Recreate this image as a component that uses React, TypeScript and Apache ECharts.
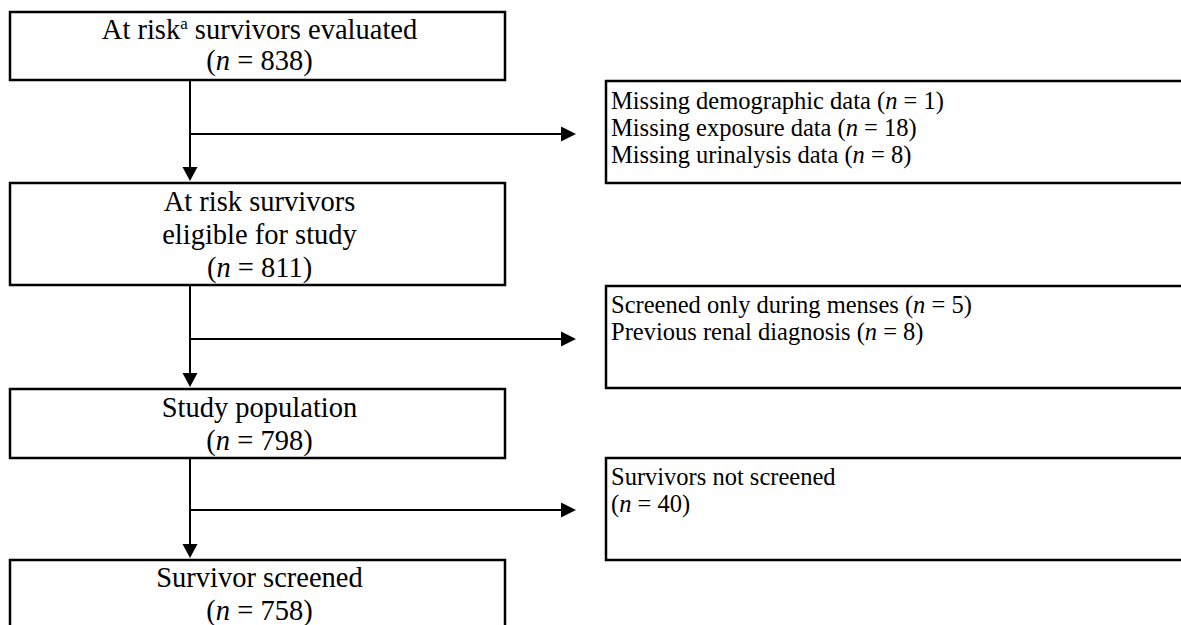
import React, { useEffect, useRef } from "react";
import * as echarts from "echarts";

// ---- data ----
const mainLabels: string[][] = [
  ["At risk{sup|a} survivors evaluated"],
  ["At risk survivors", "eligible for study"],
  ["Study population"],
  ["Survivor screened"],
];
const mainCounts: number[] = [838, 811, 798, 758];

const exclusionLabels: string[][] = [
  ["Missing demographic data", "Missing exposure data", "Missing urinalysis data"],
  ["Screened only during menses", "Previous renal diagnosis"],
  ["Survivors not screened"],
];
const exclusionCounts: number[][] = [[1, 18, 8], [5, 8], [40]];
const exclusionCountOnOwnLine: boolean[] = [false, false, true];

// ---- layout ----
const W = 1181;
const H = 625;
const FONT = "'Liberation Serif', 'Times New Roman', serif";
const LEFT_FS = 28.5;
const RIGHT_FS = 24.5;
const LEFT_X = 10;
const LEFT_W = 495;
const SPINE_X = 190;
const mainBoxes = [
  { y: 12, h: 68, baselines: [39, 70] },
  { y: 183, h: 102, baselines: [211, 244, 277] },
  { y: 389, h: 69, baselines: [417, 450] },
  { y: 560, h: 100, baselines: [587, 620] },
];
const RIGHT_X = 606;
const RIGHT_TEXT_X = 611;
const sideBoxes = [
  { y: 81, h: 102, baselines: [109, 136, 163], arrowY: 134 },
  { y: 286, h: 102, baselines: [313, 340], arrowY: 339 },
  { y: 458, h: 102, baselines: [485, 512], arrowY: 510 },
];
const ARROW_TIP_X = 576;

function richFor(fs: number) {
  return {
    i: { fontStyle: "italic", fontSize: fs, fontFamily: FONT, fill: "#000" },
    sup: { fontSize: Math.round(fs * 0.6), fontFamily: FONT, fill: "#000", verticalAlign: "top" },
  };
}

function countText(n: number) {
  return `({i|n} = ${n})`;
}

function buildGraphics() {
  const els: any[] = [];
  const lineStyle = { stroke: "#000", lineWidth: 2 };

  // main boxes
  mainBoxes.forEach((b, k) => {
    els.push({
      type: "rect",
      shape: { x: LEFT_X, y: b.y, width: LEFT_W, height: b.h },
      style: { fill: "#fff", stroke: "#000", lineWidth: 2.5 },
    });
    const lines = [...mainLabels[k], countText(mainCounts[k])];
    lines.forEach((t, j) => {
      els.push({
        type: "text",
        x: LEFT_X + LEFT_W / 2 + 2,
        y: b.baselines[j] - LEFT_FS * 0.34,
        style: {
          text: t,
          fontSize: LEFT_FS,
          fontFamily: FONT,
          fill: "#000",
          align: "center",
          verticalAlign: "middle",
          rich: richFor(LEFT_FS),
        },
      });
    });
  });

  // spine and down arrows
  for (let k = 0; k < mainBoxes.length - 1; k++) {
    const from = mainBoxes[k].y + mainBoxes[k].h;
    const tip = mainBoxes[k + 1].y - 2;
    els.push({
      type: "line",
      shape: { x1: SPINE_X, y1: from, x2: SPINE_X, y2: tip - 10 },
      style: lineStyle,
    });
    els.push({
      type: "polygon",
      shape: { points: [[SPINE_X - 7.5, tip - 14], [SPINE_X + 7.5, tip - 14], [SPINE_X, tip]] },
      style: { fill: "#000" },
    });
  }

  // side boxes and branch arrows
  sideBoxes.forEach((b, k) => {
    els.push({
      type: "rect",
      shape: { x: RIGHT_X, y: b.y, width: 700, height: b.h },
      style: { fill: "#fff", stroke: "#000", lineWidth: 2.5 },
    });
    let lines: string[];
    if (exclusionCountOnOwnLine[k]) {
      lines = [...exclusionLabels[k], countText(exclusionCounts[k][0])];
    } else {
      lines = exclusionLabels[k].map((l, j) => `${l} ${countText(exclusionCounts[k][j])}`);
    }
    lines.forEach((t, j) => {
      els.push({
        type: "text",
        x: RIGHT_TEXT_X,
        y: b.baselines[j] - RIGHT_FS * 0.34,
        style: {
          text: t,
          fontSize: RIGHT_FS,
          fontFamily: FONT,
          fill: "#000",
          align: "left",
          verticalAlign: "middle",
          rich: richFor(RIGHT_FS),
        },
      });
    });
    els.push({
      type: "line",
      shape: { x1: SPINE_X, y1: b.arrowY, x2: ARROW_TIP_X - 10, y2: b.arrowY },
      style: lineStyle,
    });
    els.push({
      type: "polygon",
      shape: {
        points: [[ARROW_TIP_X - 15, b.arrowY - 7.5], [ARROW_TIP_X, b.arrowY], [ARROW_TIP_X - 15, b.arrowY + 7.5]],
      },
      style: { fill: "#000" },
    });
  });

  return els;
}

export default function App() {
  const ref = useRef<HTMLDivElement>(null);
  useEffect(() => {
    if (!ref.current) return;
    const chart = echarts.init(ref.current, null, { renderer: "svg" });
    chart.setOption({
      animation: false,
      backgroundColor: "#fff",
      graphic: { elements: buildGraphics() },
    });
    return () => chart.dispose();
  }, []);
  return (
    <div
      ref={ref}
      style={{ position: "fixed", left: 0, top: 0, width: W, height: H, background: "#fff" }}
    />
  );
}
